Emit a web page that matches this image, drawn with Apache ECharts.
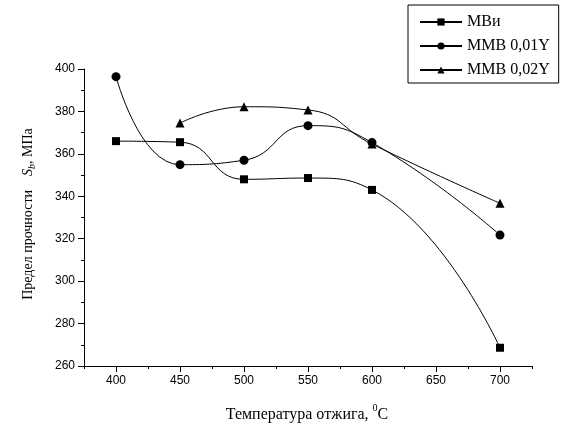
<!DOCTYPE html>
<html>
<head>
<meta charset="utf-8">
<script src="https://cdn.jsdelivr.net/npm/echarts@6/dist/echarts.min.js"></script>
<style>html,body{margin:0;padding:0;background:#fff}#c{width:563px;height:429px}</style>
</head>
<body>
<div id="c"></div>
<script>
const temps = [400, 450, 500, 550, 600, 700];
const mvi = [366, 365.5, 348, 348.6, 343, 268.6];
const mmb01 = [396.4, 354.9, 357, 373.3, 365.3, 321.7];
const mmb02 = [null, 374.5, 382.2, 380.7, 364.6, 336.7];
const seriesNames = ['МВи', 'ММВ 0,01Y', 'ММВ 0,02Y'];
const xMajor = [400, 450, 500, 550, 600, 650, 700];
const xMinor = [375, 425, 475, 525, 575, 625, 675, 725];

function pairs(vals) {
  const out = [];
  temps.forEach((t, i) => { if (vals[i] != null) out.push([t, vals[i]]); });
  return out;
}

const chart = echarts.init(document.getElementById('c'), null, {renderer: 'canvas'});
const serif = 'Liberation Serif, Times New Roman, serif';
const sans = 'Liberation Sans, Arial, sans-serif';
const lineStyle = {color: '#000', width: 1};

chart.setOption({
  animation: false,
  backgroundColor: '#fff',
  grid: {left: 84, right: 31, top: 69, bottom: 63, containLabel: false},
  legend: {
    orient: 'vertical',
    left: 408, top: 5,
    padding: [9, 9, 5, 11],
    itemGap: 8,
    itemWidth: 42,
    itemHeight: 9,
    borderColor: '#000',
    borderWidth: 1,
    textStyle: {fontFamily: serif, fontSize: 16, color: '#000'},
    data: seriesNames
  },
  xAxis: [{
    type: 'value', min: 375, max: 725, interval: 25,
    axisLine: {lineStyle: {color: '#000', width: 1}},
    axisTick: {show: true, length: 6, inside: false, customValues: xMajor, lineStyle: {color: '#000'}},
    axisLabel: {customValues: xMajor, color: '#000', fontFamily: sans, fontSize: 12, margin: 9},
    splitLine: {show: false}
  }, {
    type: 'value', min: 375, max: 725, interval: 25, position: 'bottom',
    axisLine: {show: false},
    axisTick: {show: true, length: 3, inside: false, customValues: xMinor, lineStyle: {color: '#000'}},
    axisLabel: {show: false},
    splitLine: {show: false}
  }],
  yAxis: {
    type: 'value', min: 260, max: 400, interval: 20,
    axisLine: {show: true, lineStyle: {color: '#000', width: 1}},
    axisTick: {show: true, length: 6, lineStyle: {color: '#000'}},
    minorTick: {show: true, splitNumber: 2, length: 3, lineStyle: {color: '#000'}},
    axisLabel: {color: '#000', fontFamily: sans, fontSize: 12, margin: 9},
    splitLine: {show: false},
    minorSplitLine: {show: false}
  },
  graphic: [{
    type: 'text', x: 307, y: 413,
    style: {
      text: '{a|Температура отжига, }{s|0}{a|C}',
      align: 'center', verticalAlign: 'middle',
      rich: {
        a: {fontFamily: serif, fontSize: 16, color: '#000', lineHeight: 20, verticalAlign: 'bottom'},
        s: {fontFamily: serif, fontSize: 10, color: '#000', lineHeight: 20, verticalAlign: 'top', padding: [0, 0, 8, 0]}
      }
    }
  }, {
    type: 'text', x: 28, y: 214, rotation: Math.PI / 2,
    style: {
      text: '{a|Предел прочности    }{i|S}{b|b}{a|, МПа}',
      align: 'center', verticalAlign: 'middle',
      rich: {
        a: {fontFamily: serif, fontSize: 14, color: '#000', lineHeight: 20},
        i: {fontFamily: serif, fontSize: 14, fontStyle: 'italic', color: '#000', lineHeight: 20},
        b: {fontFamily: serif, fontSize: 10, fontStyle: 'italic', color: '#000', lineHeight: 20, padding: [8, 0, 0, 0]}
      }
    }
  }],
  series: [{
    name: seriesNames[0], type: 'line', smooth: 0.5, data: pairs(mvi),
    symbol: 'rect', symbolSize: 8,
    itemStyle: {color: '#000'}, lineStyle: lineStyle
  }, {
    name: seriesNames[1], type: 'line', smooth: 0.5, data: pairs(mmb01),
    symbol: 'circle', symbolSize: 9,
    itemStyle: {color: '#000'}, lineStyle: lineStyle
  }, {
    name: seriesNames[2], type: 'line', smooth: 0.5, data: pairs(mmb02),
    symbol: 'triangle', symbolSize: 9,
    itemStyle: {color: '#000'}, lineStyle: lineStyle
  }]
});
</script>
</body>
</html>
